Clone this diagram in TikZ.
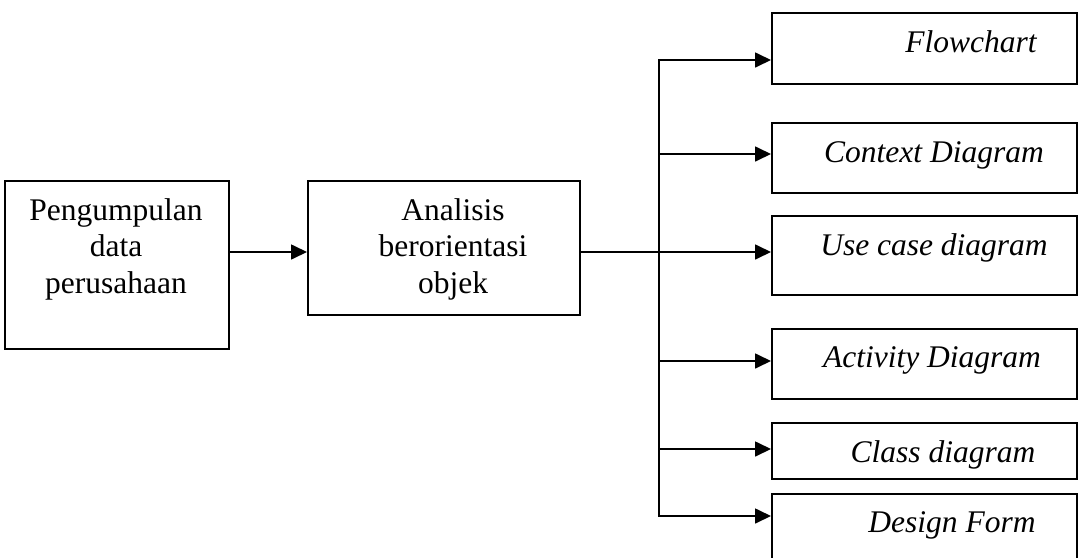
\documentclass[tikz,border=0pt]{standalone}
\usepackage{fontspec}
\setmainfont{Liberation Serif}
\usetikzlibrary{arrows.meta}
\begin{document}
\begin{tikzpicture}[x=1pt,y=-1pt,
  box/.style={draw, line width=1.7pt, rectangle, inner sep=0pt, anchor=north west},
  lbl/.style={inner sep=0pt, font=\fontsize{31.5}{36.5}\selectfont, align=center},
  ilbl/.style={lbl, font=\fontsize{31.5}{36.5}\selectfont\itshape, anchor=base},
  link/.style={line width=1.7pt},
  arr/.style={link, -{Triangle[length=16pt,width=15pt]}}]
\useasboundingbox (0,0) rectangle (1081,557);

% left part: data collection and analysis
\node[box, minimum width=224pt, minimum height=168pt] (pd) at (4,180) {};
\node[lbl] (pdt) at (116,249) {Pengumpulan\\data\\perusahaan};
\node[box, minimum width=272pt, minimum height=134pt] (ab) at (307,180) {};
\node[lbl] (abt) at (453,249) {Analisis\\berorientasi\\objek};

% output boxes
\node[box, minimum width=305pt, minimum height=71pt] (fc) at (771,12) {};
\node[ilbl] (fct) at (971,52) {Flowchart};
\node[box, minimum width=305pt, minimum height=70pt] (cd) at (771,122) {};
\node[ilbl] (cdt) at (934,162) {Context Diagram};
\node[box, minimum width=305pt, minimum height=79pt] (uc) at (771,215) {};
\node[ilbl] (uct) at (934,255) {Use case diagram};
\node[box, minimum width=305pt, minimum height=70pt] (ad) at (771,328) {};
\node[ilbl] (adt) at (932,367) {Activity Diagram};
\node[box, minimum width=305pt, minimum height=56pt] (cl) at (771,422) {};
\node[ilbl] (clt) at (943,462) {Class diagram};
\begin{scope}
  \clip (0,0) rectangle (1081,557);
  \node[box, minimum width=305pt, minimum height=80pt] (df) at (771,493) {};
\end{scope}
\node[ilbl] (dft) at (952,532) {Design Form};

% connectors
\coordinate (j) at (659,252);
\coordinate (b1) at (659,60);
\coordinate (b2) at (659,154);
\coordinate (b4) at (659,361);
\coordinate (b5) at (659,449);
\coordinate (b6) at (659,516);

\draw[arr] (pd.east |- j) -- (ab.west |- j);
\draw[link] (ab.east |- j) -- (j);
\draw[link, line width=1.4pt, line cap=rect] (b1) -- (b6);
\draw[arr] (b1) -- (b1 -| fc.west);
\draw[arr] (b2) -- (b2 -| cd.west);
\draw[arr] (j) -- (j -| uc.west);
\draw[arr] (b4) -- (b4 -| ad.west);
\draw[arr] (b5) -- (b5 -| cl.west);
\draw[arr] (b6) -- (b6 -| df.west);
\end{tikzpicture}
\end{document}
